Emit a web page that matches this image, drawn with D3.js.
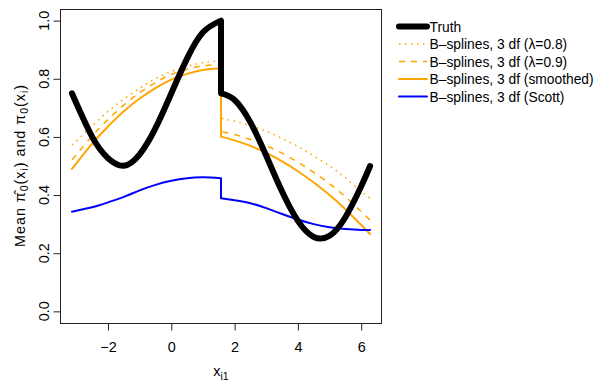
<!DOCTYPE html>
<html>
<head>
<meta charset="utf-8">
<script src="https://cdn.jsdelivr.net/npm/d3@7"></script>
<style>
  body { margin: 0; background: #fff; }
  text { font-family: "Liberation Sans", Arial, sans-serif; }
</style>
</head>
<body>
<svg id="chart" width="604" height="382"></svg>
<script>
// x grid on each side of the jump at pi/2
const xLeft  = [-3.14, -2.5, -2, -1.5, -1, -0.5, 0, 0.5, 1, 1.57];
const xRight = [1.57, 2, 2.5, 3, 3.5, 4, 4.5, 5, 5.5, 6, 6.28];

// values
const truthLeft     = [0.75, 0.60, 0.527, 0.501, 0.54, 0.63, 0.75, 0.87, 0.96, 1.0];
const truthRight    = [0.75, 0.727, 0.65, 0.535, 0.412, 0.311, 0.256, 0.26, 0.324, 0.43, 0.5];
const lam08Left     = [0.572, 0.638, 0.688, 0.730, 0.767, 0.800, 0.825, 0.843, 0.855, 0.862];
const lam08Right    = [0.664, 0.654, 0.639, 0.619, 0.595, 0.567, 0.535, 0.50, 0.459, 0.414, 0.389];
const lam09Left     = [0.521, 0.603, 0.660, 0.710, 0.752, 0.787, 0.815, 0.833, 0.845, 0.849];
const lam09Right    = [0.618, 0.608, 0.591, 0.57, 0.544, 0.513, 0.478, 0.439, 0.394, 0.343, 0.314];
const smoothLeft    = [0.49, 0.577, 0.636, 0.688, 0.732, 0.768, 0.797, 0.817, 0.830, 0.836];
const smoothRight   = [0.601, 0.588, 0.569, 0.545, 0.516, 0.482, 0.443, 0.40, 0.351, 0.297, 0.266];
const scottLeft     = [0.343, 0.358, 0.375, 0.394, 0.416, 0.435, 0.449, 0.458, 0.461, 0.458];
const scottRight    = [0.389, 0.382, 0.372, 0.355, 0.335, 0.316, 0.300, 0.289, 0.283, 0.28, 0.28];

const xTicks = [-2, 0, 2, 4, 6];
const xTickLabels = ["\u22122", "0", "2", "4", "6"];
const yTicks = [0, 0.2, 0.4, 0.6, 0.8, 1.0];
const yTickLabels = ["0.0", "0.2", "0.4", "0.6", "0.8", "1.0"];

const seriesNames = ["Truth", "B\u2013splines, 3 df (\u03bb=0.8)", "B\u2013splines, 3 df (\u03bb=0.9)",
                     "B\u2013splines, 3 df (smoothed)", "B\u2013splines, 3 df (Scott)"];

function drawChart() {
    const svg = d3.select("#chart");
    const fs = 14.4;   // R 12pt text

    // plot region (R style, 4% padding on both axes)
    const left = 60, right = 382, top = 9, bottom = 323;
    const xPad = (6.28 + 3.14) * 0.04;
    const x = d3.scaleLinear().domain([-3.14 - xPad, 6.28 + xPad]).range([left, right]);
    const y = d3.scaleLinear().domain([-0.04, 1.04]).range([bottom, top]);

    const styles = [
        { color: "black",  width: 6,   dash: null,      cap: "round" },
        { color: "orange", width: 1.5, dash: "1.5,4.5", cap: "butt" },
        { color: "orange", width: 1.5, dash: "6,6",     cap: "butt" },
        { color: "orange", width: 2,   dash: null,      cap: "round" },
        { color: "blue",   width: 2,   dash: null,      cap: "round" }
    ];
    const pieces = [
        [truthLeft, truthRight],
        [lam08Left, lam08Right],
        [lam09Left, lam09Right],
        [smoothLeft, smoothRight],
        [scottLeft, scottRight]
    ];

    const line = d3.line()
        .x(d => x(d[0]))
        .y(d => y(d[1]))
        .curve(d3.curveNatural);

    const plot = svg.append("g");

    // estimates first, the truth on top
    [1, 2, 3, 4, 0].forEach(i => {
        const p = pieces[i];
        const l = line(xLeft.map((v, j) => [v, p[0][j]]));
        const r = line(xRight.map((v, j) => [v, p[1][j]]));
        const st = styles[i];
        plot.append("path")
            .attr("d", l + r.replace(/^M/, "L"))
            .attr("fill", "none")
            .attr("stroke", st.color)
            .attr("stroke-width", st.width)
            .attr("stroke-linecap", st.cap)
            .attr("stroke-linejoin", "round")
            .attr("stroke-dasharray", st.dash);
    });

    // box
    svg.append("rect")
        .attr("x", left + 0.5).attr("y", top + 0.5)
        .attr("width", right - left - 1).attr("height", bottom - top)
        .attr("fill", "none").attr("stroke", "#222").attr("stroke-width", 1);

    // x axis
    const xAxis = svg.append("g")
        .attr("transform", `translate(0,${bottom + 0.5})`)
        .call(d3.axisBottom(x).tickValues(xTicks).tickSize(7).tickPadding(11)
            .tickFormat((d, i) => xTickLabels[i]));
    xAxis.select(".domain").remove();
    xAxis.selectAll("line").attr("stroke", "#222");
    xAxis.selectAll("text").attr("font-size", fs).attr("fill", "#000")
        .attr("font-family", "Liberation Sans, Arial, sans-serif");

    // y axis (labels rotated, as in R)
    const yAxis = svg.append("g")
        .attr("transform", `translate(${left + 0.5},0)`)
        .call(d3.axisLeft(y).tickValues(yTicks).tickSize(7).tickFormat(""));
    yAxis.select(".domain").remove();
    yAxis.selectAll("line").attr("stroke", "#222");

    svg.selectAll(".ylab")
        .data(yTicks)
        .enter().append("text")
        .attr("class", "ylab")
        .attr("transform", d => `translate(48.5,${y(d)}) rotate(-90)`)
        .attr("text-anchor", "middle")
        .attr("font-size", fs)
        .text((d, i) => yTickLabels[i]);

    // x title
    const xt = svg.append("text")
        .attr("x", 221).attr("y", 376)
        .attr("text-anchor", "middle")
        .attr("font-size", fs);
    xt.append("tspan").text("x");
    xt.append("tspan").attr("font-size", 10.5).attr("dy", 3.5).text("i1");

    // y title
    const yt = svg.append("text")
        .attr("transform", "translate(24.5,166) rotate(-90)")
        .attr("text-anchor", "middle")
        .attr("font-size", fs)
        .attr("textLength", 162)
        .attr("lengthAdjust", "spacing");
    const parts = [
        ["Mean \u03c0\u0302", 0], ["0", 1], ["(x", -1], ["i", 1], [")", -1],
        [" and \u03c0", 0], ["0", 1], ["(x", -1], ["i", 1], [")", -1]
    ];
    parts.forEach(p => {
        const t = yt.append("tspan").text(p[0]);
        if (p[1] === 1) t.attr("font-size", 10.5).attr("dy", 3.5);
        if (p[1] === -1) t.attr("dy", -3.5);
    });

    // legend
    const legend = svg.append("g");
    seriesNames.forEach((name, i) => {
        const ly = 26.5 + i * 17.5;
        const st = styles[i];
        legend.append("line")
            .attr("x1", 399).attr("x2", 427)
            .attr("y1", ly).attr("y2", ly)
            .attr("stroke", st.color)
            .attr("stroke-width", st.width)
            .attr("stroke-linecap", st.cap)
            .attr("stroke-dasharray", st.dash);
        legend.append("text")
            .attr("x", 429.5).attr("y", ly + 5)
            .attr("font-size", 13.8)
            .text(name);
    });
}

drawChart();
</script>
</body>
</html>
